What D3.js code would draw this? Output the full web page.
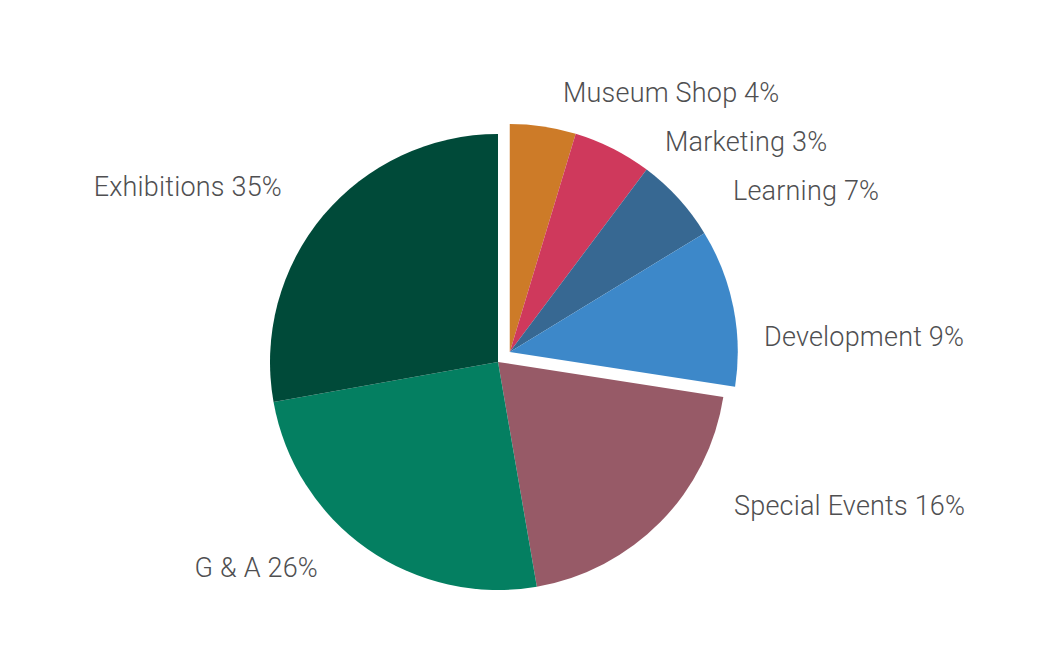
<!DOCTYPE html>
<html>
<head>
<meta charset="utf-8">
<script src="https://cdn.jsdelivr.net/npm/d3@7"></script>
<style>
  body { margin: 0; background: #fff; }
  text { font-family: Roboto, "Noto Sans", sans-serif; font-weight: 300; fill: #4f4f51; }
</style>
</head>
<body>
<svg width="1062" height="671"></svg>
<script>
// slice sizes as drawn, labels as printed
var categories = ["Museum Shop", "Marketing", "Learning", "Development", "Special Events", "G & A", "Exhibitions"];
var sliceValues = [4.67, 5.58, 6.03, 11.17, 19.83, 24.92, 27.81];
var labelPct = ["4%", "3%", "7%", "9%", "16%", "26%", "35%"];
var colors = ["#cd7b28", "#cf395c", "#376892", "#3d88c9", "#975a67", "#047f61", "#004a39"];
var exploded = [true, true, true, true, false, false, false];

// label anchors (text start / end point)
var labelPos = [[563, 102, "start"], [665, 151, "start"], [733, 200, "start"], [764, 346, "start"],
                [734, 515, "start"], [318, 577, "end"], [282, 196, "end"]];

var cx = 498, cy = 362, r = 228, explode = 15.5;

var svg = d3.select("svg");

var pie = d3.pie().sort(null).value(function(d) { return d; });
var arcs = pie(sliceValues);
var arc = d3.arc().innerRadius(0).outerRadius(r);

// direction of the pulled-out group
var grp = arcs.filter(function(d, i) { return exploded[i]; });
var midA = (grp[0].startAngle + grp[grp.length - 1].endAngle) / 2;
var ox = Math.sin(midA) * explode, oy = -Math.cos(midA) * explode;

var g = svg.append("g").attr("transform", "translate(" + cx + "," + cy + ")");

g.selectAll("path")
  .data(arcs)
  .enter().append("path")
    .attr("d", arc)
    .attr("fill", function(d, i) { return colors[i]; })
    .attr("transform", function(d, i) { return exploded[i] ? "translate(" + ox + "," + oy + ")" : null; });

svg.selectAll("text.lbl")
  .data(categories)
  .enter().append("text")
    .attr("class", "lbl")
    .attr("x", function(d, i) { return labelPos[i][0]; })
    .attr("y", function(d, i) { return labelPos[i][1]; })
    .attr("text-anchor", function(d, i) { return labelPos[i][2]; })
    .attr("font-size", 27)
    .attr("letter-spacing", 0.2)
    .text(function(d, i) { return d + " " + labelPct[i]; });
</script>
</body>
</html>
